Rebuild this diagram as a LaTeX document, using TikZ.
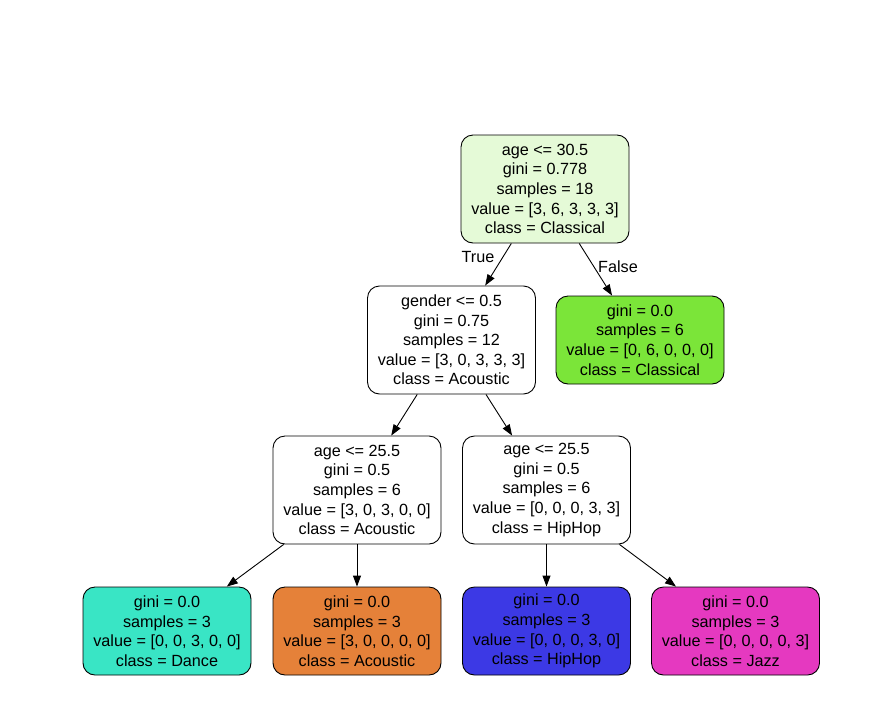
\documentclass[tikz,border=0pt]{standalone}
\usepackage{fontspec}
\setmainfont{Liberation Sans}
\usetikzlibrary{arrows.meta}
\definecolor{rootc}{HTML}{E5FAD7}
\definecolor{cgreen}{HTML}{7BE539}
\definecolor{cteal}{HTML}{39E5C5}
\definecolor{corange}{HTML}{E58139}
\definecolor{cblue}{HTML}{3C39E5}
\definecolor{cmag}{HTML}{E539C0}
\tikzset{
  tree/.style={draw=black, line width=0.9pt, rounded corners=12pt, minimum width=168pt, inner sep=0pt, align=center, font=\fontsize{16.2}{19.6}\selectfont},
  split/.style={tree, minimum height=108pt},
  leaf/.style={tree, minimum height=88pt},
  edge/.style={line width=0.9pt, -{Triangle[length=11pt,width=8pt]}},
  elabel/.style={font=\fontsize{16.2}{18}\selectfont}
}
\begin{document}
\begin{tikzpicture}[x=1pt,y=-1pt]
\useasboundingbox (0,0) rectangle (877,707);
\node[split, fill=rootc] (root) at (545,189) {age <= 30.5\\gini = 0.778\\samples = 18\\value = [3, 6, 3, 3, 3]\\class = Classical};
\node[split, fill=white] (gender) at (451.5,340) {gender <= 0.5\\gini = 0.75\\samples = 12\\value = [3, 0, 3, 3, 3]\\class = Acoustic};
\node[leaf, fill=cgreen] (lclass) at (640,340) {gini = 0.0\\samples = 6\\value = [0, 6, 0, 0, 0]\\class = Classical};
\node[split, fill=white] (ageL) at (357,490) {age <= 25.5\\gini = 0.5\\samples = 6\\value = [3, 0, 3, 0, 0]\\class = Acoustic};
\node[split, fill=white] (ageR) at (546.5,490) {age <= 25.5\\gini = 0.5\\samples = 6\\value = [0, 0, 0, 3, 3]\\class = HipHop};
\node[leaf, fill=cteal] (ldance) at (167,631) {gini = 0.0\\samples = 3\\value = [0, 0, 3, 0, 0]\\class = Dance};
\node[leaf, fill=corange] (lacou) at (357,631) {gini = 0.0\\samples = 3\\value = [3, 0, 0, 0, 0]\\class = Acoustic};
\node[leaf, fill=cblue] (lhip) at (546.5,631) {gini = 0.0\\samples = 3\\value = [0, 0, 0, 3, 0]\\class = HipHop};
\node[leaf, fill=cmag] (ljazz) at (735.5,631) {gini = 0.0\\samples = 3\\value = [0, 0, 0, 0, 3]\\class = Jazz};
\draw[edge] (root) -- (gender);
\draw[edge] (root) -- (lclass);
\draw[edge] (gender) -- (ageL);
\draw[edge] (gender) -- (ageR);
\draw[edge] (ageL) -- (ldance);
\draw[edge] (ageL) -- (lacou);
\draw[edge] (ageR) -- (lhip);
\draw[edge] (ageR) -- (ljazz);
\node[elabel] (ltrue) at (478,257) {True};
\node[elabel] (lfalse) at (618,267) {False};
\end{tikzpicture}
\end{document}
